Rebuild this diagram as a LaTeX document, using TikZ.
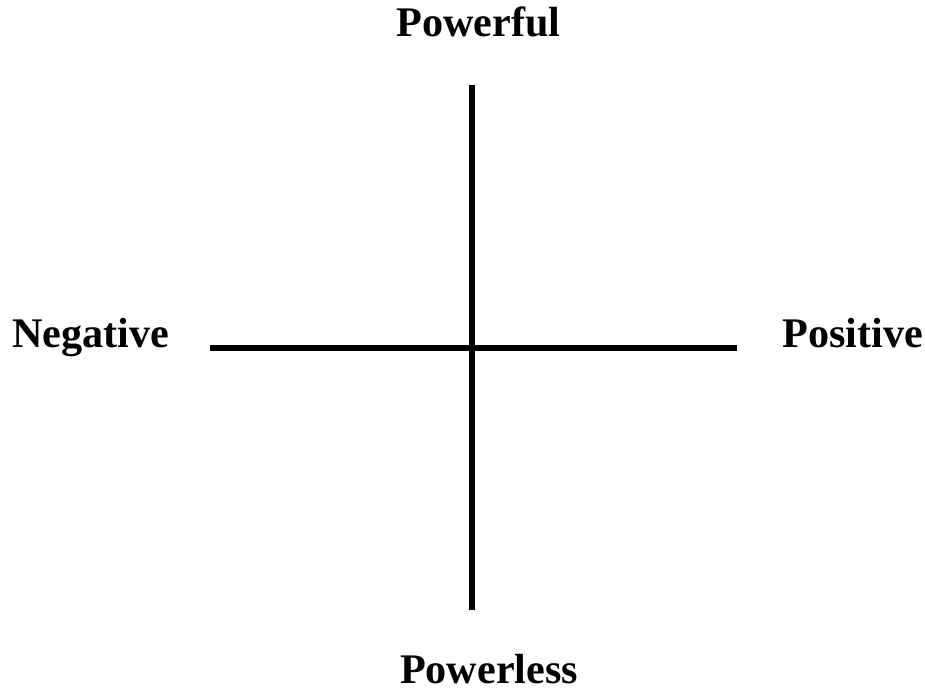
\documentclass[tikz,border=0pt]{standalone}
\usepackage{fontspec}
\setmainfont{Liberation Serif}
\usetikzlibrary{positioning}

\begin{document}
\begin{tikzpicture}[axislabel/.style={inner sep=0pt, font=\fontsize{24}{28}\selectfont\bfseries}]
  \useasboundingbox (0,0) rectangle (18.5,13.82);

  \coordinate (top) at (9.44,12.12);
  \coordinate (bottom) at (9.44,1.62);
  \coordinate (left) at (4.2,6.86);
  \coordinate (right) at (14.74,6.86);

  \draw[line width=3.2pt] (left) -- (right);
  \draw[line width=3.2pt] (bottom) -- (top);

  \node[axislabel, anchor=base] (powerful) at (9.57,13.08) {Powerful};
  \node[axislabel, anchor=base] (powerless) at (9.78,0.16) {Powerless};
  \node[axislabel, anchor=base west] (negative) at (0.24,6.86) {Negative};
  \node[axislabel, anchor=base west] (positive) at (15.64,6.86) {Positive};
\end{tikzpicture}
\end{document}
